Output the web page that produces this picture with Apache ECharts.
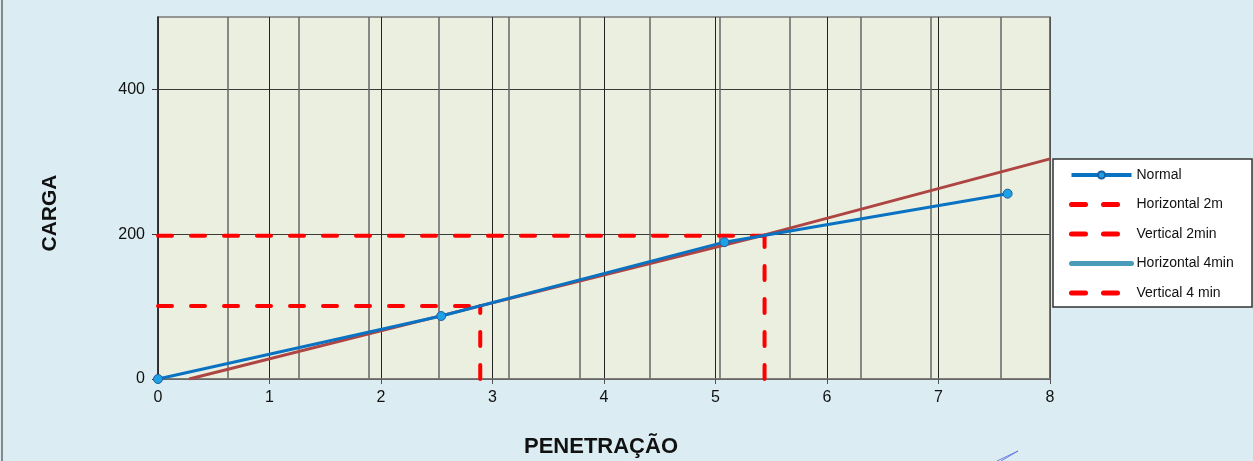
<!DOCTYPE html>
<html>
<head>
<meta charset="utf-8">
<script src="https://cdn.jsdelivr.net/npm/echarts@6/dist/echarts.min.js"></script>
<style>
html,body{margin:0;padding:0;background:#DBEDF3;}
#chart{width:1253px;height:461px;}
</style>
</head>
<body>
<div id="chart"></div>
<script>
// ---- data ----
const normalX = [0, 2.54, 5.08, 7.62];
const normalY = [0, 87, 189, 256];
const trendX = [0.28, 2.89, 5.44, 8];
const trendY = [0, 101, 199, 304];
const horiz2X = [0, 2.89];
const horiz2Y = [101, 101];
const vert2X = [2.89, 2.89];
const vert2Y = [0, 101];
const horiz4X = [0, 5.44];
const horiz4Y = [198, 198];
const vert4X = [5.44, 5.44];
const vert4Y = [0, 198];
const yTickLabels = [0, 200, 400];
const legendNames = ['Normal', 'Horizontal 2m', 'Vertical 2min', 'Horizontal 4min', 'Vertical 4 min'];

const pairs = (xs, ys) => xs.map((x, i) => [x, ys[i]]);
const FONT = '"Liberation Sans", Arial, sans-serif';
const dash = { color: '#FF0000', width: 4, type: [14, 19], cap: 'round' };
const legendDash = { color: '#FF0000', width: 5, type: [14, 18], cap: 'round' };
const hideSym = { opacity: 0 };

const chart = echarts.init(document.getElementById('chart'));
chart.setOption({
  backgroundColor: '#DBEDF3',
  animation: false,
  textStyle: { fontFamily: FONT },
  grid: {
    left: 158, right: 203, top: 17, bottom: 82,
    show: true, backgroundColor: '#EBEFDF', borderColor: '#7a7a7a', borderWidth: 1.5
  },
  legend: {
    orient: 'vertical', left: 1069, top: 168,
    itemWidth: 60, itemHeight: 9, itemGap: 15.5, padding: 0,
    textStyle: { fontFamily: FONT, fontSize: 14, color: '#111' },
    data: [
      { name: legendNames[0], lineStyle: { color: '#0A72C2', width: 4 } },
      { name: legendNames[1], lineStyle: legendDash, itemStyle: hideSym },
      { name: legendNames[2], lineStyle: legendDash, itemStyle: hideSym },
      { name: legendNames[3], lineStyle: { color: '#4A9BBA', type: 'solid', width: 5, cap: 'round' }, itemStyle: hideSym },
      { name: legendNames[4], lineStyle: legendDash, itemStyle: hideSym }
    ]
  },
  xAxis: [
    {
      type: 'value', min: 0, max: 8, interval: 1,
      axisLine: { show: true, onZero: false, lineStyle: { color: '#777', width: 1.5 } },
      axisTick: { show: true, length: 5, lineStyle: { color: '#555' } },
      axisLabel: { fontSize: 16, color: '#111', margin: 11, fontFamily: FONT },
      splitLine: { show: true, lineStyle: { color: '#222', width: 1 } }
    },
    {
      type: 'value', min: 0, max: 12.7, interval: 1, position: 'bottom',
      axisLine: { show: false }, axisTick: { show: false }, axisLabel: { show: false },
      splitLine: { show: true, lineStyle: { color: '#666', width: 1.5 } }
    }
  ],
  yAxis: [
    {
      type: 'value', min: 0, max: 500, interval: 50,
      axisLine: { show: true, onZero: false, lineStyle: { color: '#222', width: 1.5 } },
      axisTick: { show: true, length: 6, lineStyle: { color: '#333' }, customValues: yTickLabels },
      axisLabel: { fontSize: 16, color: '#111', margin: 13, fontFamily: FONT, customValues: yTickLabels },
      splitLine: { show: true, lineStyle: { color: '#3a3a3a', width: 1 } }
    }
  ],
  graphic: [
    { type: 'line', shape: { x1: 2, y1: 0, x2: 2, y2: 461 }, style: { stroke: '#666', lineWidth: 1.5 } },
    { type: 'rect', shape: { x: 1053, y: 159, width: 199, height: 148 }, style: { fill: '#fff', stroke: '#333', lineWidth: 1.5 }, z: -1, silent: true },
    { type: 'text', x: 50, y: 213, rotation: Math.PI / 2,
      style: { text: 'CARGA', font: 'bold 21px ' + FONT, fill: '#111', textAlign: 'center', textVerticalAlign: 'middle' } },
    { type: 'text', x: 601, y: 447,
      style: { text: 'PENETRAÇÃO', font: 'bold 22px ' + FONT, fill: '#111', textAlign: 'center', textVerticalAlign: 'middle' } },
    { type: 'polyline', shape: { points: [[997, 461], [1018, 451], [1001, 461]] }, style: { stroke: '#6f7fe0', lineWidth: 1, fill: null } }
  ],
  series: [
    {
      name: 'Tendência', type: 'line', data: pairs(trendX, trendY), showSymbol: false, symbol: 'none',
      lineStyle: { color: '#AE4543', width: 3 }, z: 2, silent: true
    },
    { name: legendNames[1], type: 'line', data: pairs(horiz2X, horiz2Y), symbol: 'none', lineStyle: dash, itemStyle: { color: '#FF0000' }, z: 3 },
    { name: legendNames[2], type: 'line', data: pairs(vert2X, vert2Y), symbol: 'none', lineStyle: dash, itemStyle: { color: '#FF0000' }, z: 3 },
    { name: legendNames[3], type: 'line', data: pairs(horiz4X, horiz4Y), symbol: 'none', lineStyle: dash, itemStyle: { color: '#FF0000' }, z: 3 },
    { name: legendNames[4], type: 'line', data: pairs(vert4X, vert4Y), symbol: 'none', lineStyle: dash, itemStyle: { color: '#FF0000' }, z: 3 },
    {
      name: legendNames[0], type: 'line', data: pairs(normalX, normalY),
      symbol: 'circle', symbolSize: 9,
      lineStyle: { color: '#0A72C2', width: 3 },
      itemStyle: { color: '#1EA0E6', borderColor: '#1E5F9E', borderWidth: 1 },
      z: 5
    }
  ]
});
</script>
</body>
</html>
